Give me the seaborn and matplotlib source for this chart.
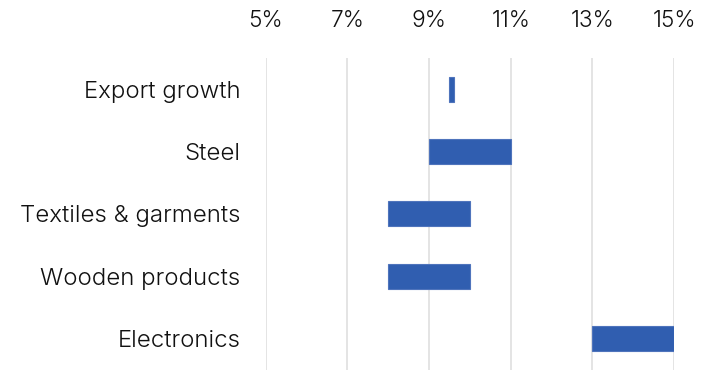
import matplotlib
matplotlib.use("Agg")
import matplotlib.pyplot as plt
import seaborn as sns
import pandas as pd
from matplotlib.ticker import FuncFormatter

categories = ["Export growth", "Steel", "Textiles & garments", "Wooden products", "Electronics"]
range_low = [9.5, 9.0, 8.0, 8.0, 13.0]
range_high = [9.6, 11.0, 10.0, 10.0, 15.0]
x_ticks = [5, 7, 9, 11, 13, 15]

sns.set_theme(style="white")
plt.rcParams['font.family'] = ['Inter', 'DejaVu Sans']

df = pd.DataFrame({"category": categories, "low": range_low, "high": range_high})

fig = plt.figure(figsize=(7.06, 3.71), dpi=100)
ax = fig.add_axes([0.3764, 0.003, 0.9547 - 0.3764, 0.8437 - 0.003])

sns.barplot(data=df, y="category", x="high", orient="h", color="#305EB0",
            saturation=1, width=0.4, ax=ax, edgecolor="#4F74BC", linewidth=0.8, zorder=3)
for patch, lo, hi in zip(ax.patches, range_low, range_high):
    patch.set_x(lo)
    patch.set_width(hi - lo)

ax.set_xlim(5, 15)
ax.set_xticks(x_ticks)
ax.xaxis.set_major_formatter(FuncFormatter(lambda v, p: f"{v:.0f}%"))
ax.xaxis.tick_top()
ax.tick_params(axis="x", length=0, pad=19, labelsize=16.3, colors="#111111")
ax.tick_params(axis="y", length=0, pad=18, labelsize=17.3, colors="#111111")
for lab in ax.get_xticklabels() + ax.get_yticklabels():
    lab.set_fontweight(350)
ax.grid(axis="x", color="#dcdcdc", linewidth=1.1, zorder=0)
ax.set_axisbelow(True)
ax.set_xlabel("")
ax.set_ylabel("")
for s in ax.spines.values():
    s.set_visible(False)

fig.savefig("out.png", dpi=100)
